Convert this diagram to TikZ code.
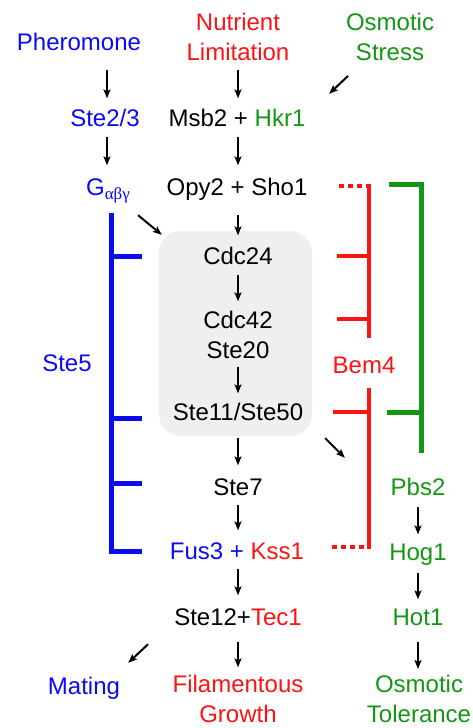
\documentclass[tikz,border=0pt]{standalone}
\usepackage{fontspec}
\setmainfont{Liberation Sans}
\newfontfamily\grk{Liberation Serif}
\usetikzlibrary{arrows.meta,calc}
\definecolor{blu}{RGB}{10,10,245}
\definecolor{rd}{RGB}{250,20,20}
\definecolor{grn}{RGB}{20,150,20}
\definecolor{boxgray}{RGB}{239,239,239}
\newcommand\fsz{\fontsize{24}{30}\selectfont}
\tikzset{
  lab/.style={inner sep=0pt, text height=17pt, text depth=5pt, anchor=base, font=\fsz},
  lab2/.style={inner sep=0pt, align=center, anchor=north, font=\fsz},
  arr/.style={-{Stealth[length=9pt,width=7pt,inset=2pt]}, line width=2pt, black},
  bluebar/.style={blu, line width=5pt},
  redbar/.style={rd, line width=4.5pt},
  reddots/.style={rd, line width=4.5pt, dash pattern=on 5pt off 4pt},
  grnbar/.style={grn, line width=5pt, line join=miter},
}
\begin{document}
\begin{tikzpicture}[x=1pt,y=-1pt]
\useasboundingbox (0,0) rectangle (472,728);
% gray module box
\node[fill=boxgray, rounded corners=22pt, minimum width=153pt, minimum height=205pt, inner sep=0pt] (box) at (235.5,333.5) {};
% texts
\node[lab, blu] (pher) at (79,50.6) {Pheromone};
\node[lab2, rd] (nut) at (238,13.4) {Nutrient\\Limitation};
\node[lab2, grn] (osm) at (390,13.4) {Osmotic\\Stress};
\node[lab, blu] (ste23) at (105,126.6) {Ste2/3};
\node[lab] (msb) at (237,126.6) {Msb2 + \textcolor{grn}{Hkr1}};
\node[lab, blu] (gab) at (108,195.6) {G\raisebox{-4pt}{\fontsize{17}{17}\selectfont\grk αβγ}};
\node[lab] (opy) at (237,195.6) {Opy2 + Sho1};
\node[lab] (cdc24) at (238,264.6) {Cdc24};
\node[lab2] (cdc42) at (238,311.4) {Cdc42\\Ste20};
\node[lab] (ste11) at (238,420.6) {Ste11/Ste50};
\node[lab] (ste7) at (238,495.6) {Ste7};
\node[lab] (fus) at (237,559.6) {\textcolor{blu}{Fus3 +} \textcolor{rd}{Kss1}};
\node[lab] (ste12) at (238,625.6) {Ste12+\textcolor{rd}{Tec1}};
\node[lab2, rd] (fil) at (238,674.4) {Filamentous\\Growth};
\node[lab, blu] (mating) at (84,694.6) {Mating};
\node[lab, rd] (bem4) at (364,373.6) {Bem4};
\node[lab, blu] (ste5) at (67,371.6) {Ste5};
\node[lab, grn] (pbs2) at (418,495.6) {Pbs2};
\node[lab, grn] (hog1) at (418,560.6) {Hog1};
\node[lab, grn] (hot1) at (418,625.6) {Hot1};
\node[lab2, grn] (tol) at (419,675) {Osmotic\\Tolerance};
% vertical arrows
\draw[arr, shorten <=14pt, shorten >=11pt] ([xshift=2pt]pher.south -| ste23.north) -- ([xshift=2pt]ste23.north);
\draw[arr, shorten <=9pt, shorten >=11pt] (nut.south) -- (nut.south |- msb.north);
\draw[arr, shorten <=5pt, shorten >=13pt] ([xshift=2pt]ste23.south) -- ([xshift=2pt]ste23.south |- gab.north);
\draw[arr, shorten <=5pt, shorten >=13pt] ([xshift=1pt]msb.south) -- ([xshift=1pt]opy.north);
\draw[arr, shorten <=14pt, shorten >=12pt] ([xshift=1pt]opy.south) -- (cdc24.north);
\draw[arr, shorten <=5pt, shorten >=10pt] (cdc24.south) -- (cdc42.north);
\draw[arr, shorten <=8pt, shorten >=10pt] (cdc42.south) -- (ste11.north);
\draw[arr, shorten <=12pt, shorten >=13pt] (ste11.south) -- (ste7.north);
\draw[arr, shorten <=4pt, shorten >=12pt] (ste7.south) -- (ste7.south |- fus.north);
\draw[arr, shorten <=4pt, shorten >=13pt] (ste7.south |- fus.south) -- (ste12.north);
\draw[arr, shorten <=11pt, shorten >=7pt] (ste12.south) -- (fil.north);
\draw[arr, shorten <=6pt, shorten >=9pt] (pbs2.south) -- (hog1.north);
\draw[arr, shorten <=7pt, shorten >=9pt] (hog1.south) -- (hot1.north);
\draw[arr, shorten <=11pt, shorten >=6pt] (hot1.south) -- (hot1.south |- tol.north);
% diagonal arrows
\draw[arr] ($(osm.south)+(-42,14.5)$) -- ($(msb.north east)+(23.6,-15.6)$);
\draw[arr] ($(gab.south east)+(8,14.4)$) -- ($(box.north west)+(3,4)$);
\draw[arr] ($(box.south east)+(13,2)$) -- ($(pbs2.north west)+(-45.6,-20.6)$);
\draw[arr] ($(ste12.south west)+(-26,13.4)$) -- ($(mating.north east)+(8,-14.6)$);
% Ste5 scaffold bracket
\draw[bluebar] (111,213) -- (111,553.5);
\draw[bluebar] (111,256) -- (142,256);
\draw[bluebar] (111,418) -- (142,418);
\draw[bluebar] (111,483) -- (142,483);
\draw[bluebar] (111,551) -- (142,551);
% Bem4 brackets
\draw[reddots] (339,186) -- (369,186);
\draw[redbar] (369,183.75) -- (369,338);
\draw[redbar] (337,256) -- (369,256);
\draw[redbar] (337,319) -- (369,319);
\draw[redbar] (369,388) -- (369,549.25);
\draw[redbar] (333,412) -- (369,412);
\draw[reddots] (332,547) -- (367,547);
% Osmotic branch bracket
\draw[grnbar] (389,184) -- (421,184) -- (421,453);
\draw[grnbar] (387,412) -- (421,412);
\end{tikzpicture}
\end{document}
